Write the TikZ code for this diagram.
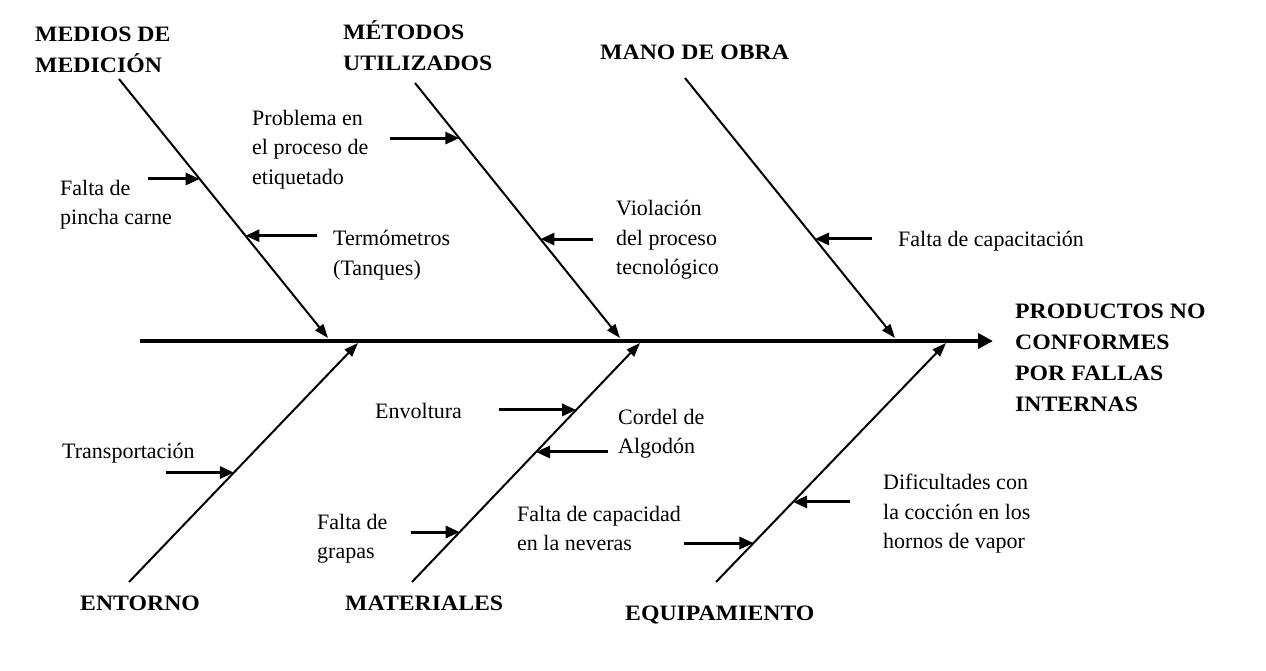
\documentclass[tikz,border=0pt]{standalone}
\usepackage{fontspec}
\setmainfont{Liberation Serif}
\newfontfamily\hdrfont{Liberation Serif}[FakeStretch=1.08]
\usetikzlibrary{arrows.meta,calc}
\begin{document}
\begin{tikzpicture}[x=1pt,y=-1pt,
  lbl/.style={anchor=north west, inner sep=0pt, align=left,
    font=\fontsize{22}{29.5}\selectfont, execute at begin node={\rule{0pt}{21pt}}},
  hdr/.style={lbl, font=\hdrfont\fontsize{22}{31}\selectfont\bfseries},
  bone/.style={line width=2pt, -{Triangle[length=14pt,width=10pt]}},
  spine/.style={line width=4pt, -{Triangle[length=15pt,width=15pt]}},
  cause/.style={line width=3pt, -{Triangle[length=14pt,width=12pt]}}]
\useasboundingbox (0,0) rectangle (1266,670);

% spine and bones
\coordinate (s0) at (140,341); \coordinate (s1) at (993,341);
\coordinate (m0) at (119,79);  \coordinate (m1) at (328,338);
\coordinate (t0) at (415,83);  \coordinate (t1) at (620,338);
\coordinate (o0) at (685,78);  \coordinate (o1) at (895,338);
\coordinate (e0) at (129,582); \coordinate (e1) at (358,343);
\coordinate (a0) at (412,582); \coordinate (a1) at (640,343);
\coordinate (q0) at (716,582); \coordinate (q1) at (946,343);

\draw[spine] (s0) -- (s1);
\draw[bone] (m0) -- (m1);
\draw[bone] (t0) -- (t1);
\draw[bone] (o0) -- (o1);
\draw[bone] (e0) -- (e1);
\draw[bone] (a0) -- (a1);
\draw[bone] (q0) -- (q1);

% cause arrow tips on bones
\coordinate (c1) at ($(m0)!0.386!(m1)$);
\coordinate (c2) at ($(m0)!0.605!(m1)$);
\coordinate (c3) at ($(t0)!0.216!(t1)$);
\coordinate (c4) at ($(t0)!0.612!(t1)$);
\coordinate (c5) at ($(o0)!0.619!(o1)$);
\coordinate (c6) at ($(e0)!0.458!(e1)$);
\coordinate (c7) at ($(a0)!0.72!(a1)$);
\coordinate (c8) at ($(a0)!0.544!(a1)$);
\coordinate (c9) at ($(a0)!0.209!(a1)$);
\coordinate (c10) at ($(q0)!0.335!(q1)$);
\coordinate (c11) at ($(q0)!0.163!(q1)$);

\draw[cause] ($(c1)+(-52,0)$) -- (c1);
\draw[cause] ($(c2)+(72,0)$) -- (c2);
\draw[cause] ($(c3)+(-69,0)$) -- (c3);
\draw[cause] ($(c4)+(53,0)$) -- (c4);
\draw[cause] ($(c5)+(57,0)$) -- (c5);
\draw[cause] ($(c6)+(-68,0)$) -- (c6);
\draw[cause] ($(c7)+(-77,0)$) -- (c7);
\draw[cause] ($(c8)+(72,0)$) -- (c8);
\draw[cause] ($(c9)+(-49,0)$) -- (c9);
\draw[cause] ($(c10)+(57,0)$) -- (c10);
\draw[cause] ($(c11)+(-69,0)$) -- (c11);

% headers
\node[hdr] (hmed) at (35,27) {MEDIOS DE\\MEDICIÓN};
\node[hdr] (hmet) at (343,20) {MÉTODOS\\UTILIZADOS};
\node[hdr] (hman) at (600,38) {MANO DE OBRA};
\node[hdr] (hprod) at (1015,304) {PRODUCTOS NO\\CONFORMES\\POR FALLAS\\INTERNAS};
\node[hdr] (hent) at (80,589) {ENTORNO};
\node[hdr] (hmat) at (345,589) {MATERIALES};
\node[hdr] (hequ) at (625,599) {EQUIPAMIENTO};

% causes
\node[lbl] (lprob) at (252,110) {Problema en\\el proceso de\\etiquetado};
\node[lbl] (lpin) at (60,180) {Falta de\\pincha carne};
\node[lbl] (lter) at (333,230) {Termómetros\\(Tanques)};
\node[lbl] (lvio) at (616,200) {Violación\\del proceso\\tecnológico};
\node[lbl] (lcap) at (898,225) {Falta de capacitación};
\node[lbl] (lenv) at (375,397) {Envoltura};
\node[lbl] (lcor) at (618,409) {Cordel de\\Algodón};
\node[lbl] (ltra) at (62,437) {Transportación};
\node[lbl] (lnev) at (517,506) {Falta de capacidad\\en la neveras};
\node[lbl] (lgra) at (317,514) {Falta de\\grapas};
\node[lbl] (ldif) at (883,474) {Dificultades con\\la cocción en los\\hornos de vapor};
\end{tikzpicture}
\end{document}
